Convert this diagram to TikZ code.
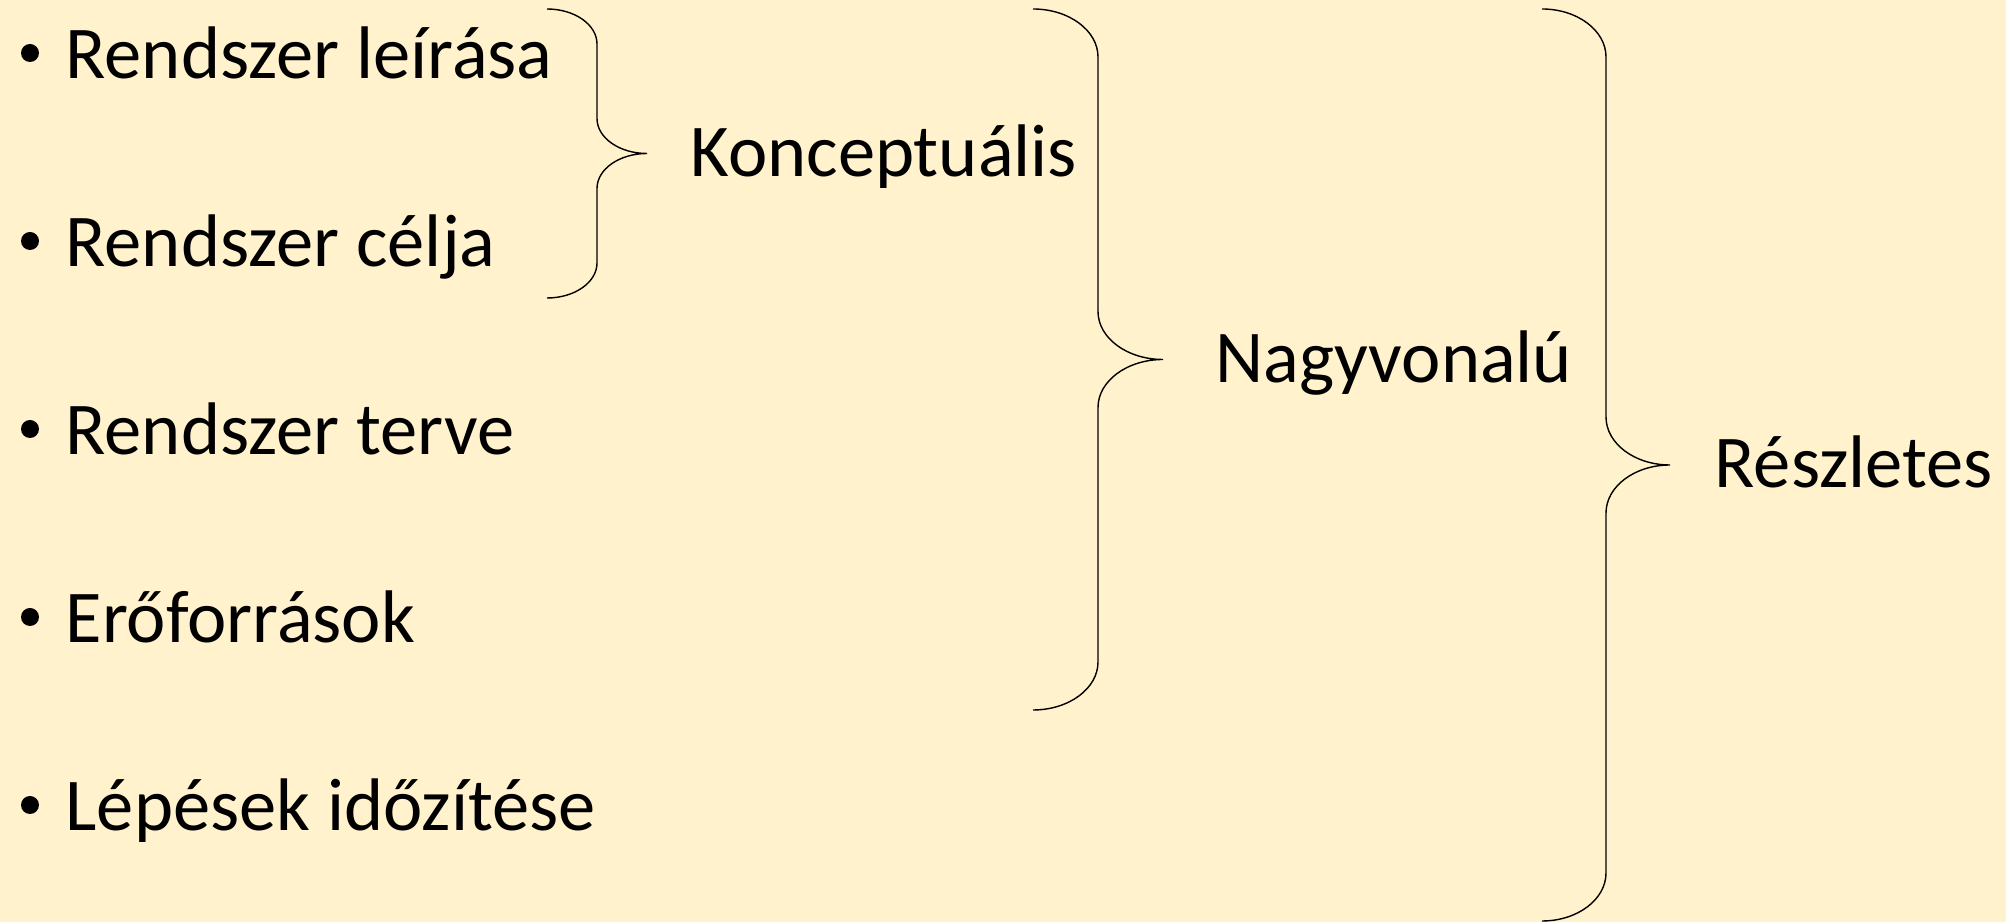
\documentclass[tikz,border=0pt]{standalone}
\usepackage{fontspec}
\setmainfont{Carlito}
\definecolor{hatter}{HTML}{FFF2CC}

\begin{document}
\begin{tikzpicture}[auto,
		item/.style={anchor=base west, inner sep=0pt, font=\fontsize{21.2}{25}\selectfont},
		szint/.style={item},
		pont/.style={circle, fill=black, inner sep=0pt, minimum size=0.18cm},
		kapocs/.style={draw=black, line width=0.4pt}]
			\fill[hatter] (0,0) rectangle (20.06,-9.22);
			\useasboundingbox (0,0) rectangle (20.06,-9.22);
			% felsorolas
			\node[pont] (p1) at (0.30,-0.53) {};
			\node[pont] (p2) at (0.30,-2.41) {};
			\node[pont] (p3) at (0.30,-4.29) {};
			\node[pont] (p4) at (0.30,-6.17) {};
			\node[pont] (p5) at (0.30,-8.05) {};
			\node[item] (leiras) at (0.65,-0.79) {Rendszer leírása};
			\node[item] (celja) at (0.65,-2.67) {Rendszer célja};
			\node[item] (terve) at (0.65,-4.55) {Rendszer terve};
			\node[item] (eroforras) at (0.65,-6.43) {Erőforrások};
			\node[item] (idozites) at (0.65,-8.31) {Lépések időzítése};
			% kapcsos zarojelek
			\draw[kapocs] (5.47,-0.09) arc (90:0:0.5 and 0.35) -- (5.97,-1.185) arc (180:270:0.5 and 0.35) arc (90:180:0.5 and 0.35) -- (5.97,-2.63) arc (0:-90:0.5 and 0.35);
			\draw[kapocs] (10.33,-0.09) arc (90:0:0.65 and 0.48) -- (10.98,-3.115) arc (180:270:0.65 and 0.48) arc (90:180:0.65 and 0.48) -- (10.98,-6.62) arc (0:-90:0.65 and 0.48);
			\draw[kapocs] (15.42,-0.09) arc (90:0:0.64 and 0.48) -- (16.06,-4.17) arc (180:270:0.64 and 0.48) arc (90:180:0.64 and 0.48) -- (16.06,-8.73) arc (0:-90:0.64 and 0.48);
			\node[szint] (konc) at (6.90,-1.77) {Konceptuális};
			\node[szint] (nagy) at (12.15,-3.83) {Nagyvonalú};
			\node[szint] (resz) at (17.14,-4.88) {Részletes};
		\end{tikzpicture}
\end{document}
